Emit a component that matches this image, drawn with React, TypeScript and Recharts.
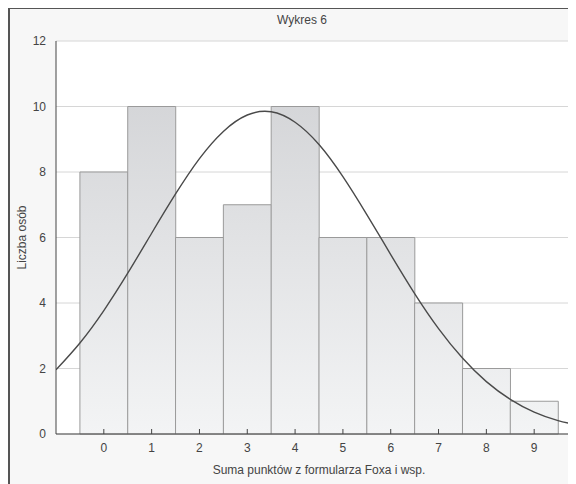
import React from 'react';
import { ComposedChart, Bar, Line, XAxis, YAxis, CartesianGrid } from 'recharts';

// histogram: score on the Fox et al. form vs number of people
const scores = [0, 1, 2, 3, 4, 5, 6, 7, 8, 9];
const counts = [8, 10, 6, 7, 10, 6, 6, 4, 2, 1];

// fitted normal curve
const curveX = [-1, -0.5, 0, 0.5, 1, 1.5, 2, 2.5, 3, 3.5, 4, 4.5, 5, 5.5, 6, 6.5, 7, 7.5, 8, 8.5, 9, 9.5, 10];
const curveY = [1.96, 2.78, 3.77, 4.91, 6.13, 7.33, 8.41, 9.24, 9.74, 9.84, 9.52, 8.84, 7.86, 6.7, 5.48, 4.29, 3.22, 2.32, 1.6, 1.06, 0.67, 0.41, 0.24];

const xTicks = [0, 1, 2, 3, 4, 5, 6, 7, 8, 9];
const yTicks = [0, 2, 4, 6, 8, 10, 12];

const barData = scores.map((s, i) => ({ x: s, count: counts[i] }));
const curveData = curveX.map((x, i) => ({ x, fit: curveY[i] }));

const font = { fontFamily: 'Liberation Sans, Arial, sans-serif', fontSize: 12, fill: '#444' };

const App: React.FC = () => {
    return (
        <div
            style={{
                position: 'relative',
                marginTop: -1,
                width: 568,
                height: 477,
                overflow: 'hidden',
                background: '#f7f7f7',
                borderLeft: '2px solid #555',
                borderTop: '2px solid #555',
                boxSizing: 'border-box',
                fontFamily: 'Liberation Sans, Arial, sans-serif',
            }}
        >
            <div style={{ position: 'absolute', left: 0, width: 584, top: 4, textAlign: 'center', fontSize: 12, color: '#444' }}>
                Wykres 6
            </div>
            <div style={{ position: 'absolute', left: 0, top: 0 }}>
                <ComposedChart width={572} height={475} data={barData} margin={{ top: 32, right: 0, left: 0, bottom: 10 }} barCategoryGap={0}>
                    <defs>
                        <linearGradient id="barFill" gradientUnits="userSpaceOnUse" x1="0" y1="32" x2="0" y2="425">
                            <stop offset="0%" stopColor="#cfd0d3" />
                            <stop offset="100%" stopColor="#f3f4f5" />
                        </linearGradient>
                    </defs>
                    <CartesianGrid vertical={false} stroke="#d6d6d6" fill="#fff" />
                    <XAxis
                        dataKey="x"
                        type="number"
                        domain={[-1, 10]}
                        ticks={xTicks}
                        allowDataOverflow
                        height={40}
                        stroke="#444"
                        tickSize={-5}
                        tickMargin={14}
                        tick={font}
                        label={{ value: 'Suma punktów z formularza Foxa i wsp.', position: 'insideBottom', offset: 0, style: font }}
                    />
                    <XAxis
                        xAxisId="bars"
                        dataKey="x"
                        type="number"
                        domain={[-1, 10]}
                        allowDataOverflow
                        height={0}
                        hide
                    />
                    <XAxis
                        xAxisId="top"
                        orientation="top"
                        dataKey="x"
                        type="number"
                        domain={[-1, 10]}
                        ticks={xTicks}
                        allowDataOverflow
                        height={0}
                        stroke="#444"
                        tickSize={-5}
                        tick={false}
                    />
                    <YAxis
                        type="number"
                        domain={[0, 12]}
                        ticks={yTicks}
                        width={46}
                        stroke="#444"
                        tickLine={false}
                        tickSize={0}
                        tickMargin={10}
                        tick={font}
                        label={{ value: 'Liczba osób', angle: -90, position: 'insideLeft', offset: 12, style: { ...font, textAnchor: 'middle' } }}
                    />
                    <Bar xAxisId="bars" dataKey="count" fill="url(#barFill)" stroke="#9a9a9a" strokeWidth={1} isAnimationActive={false} />
                    <Line
                        data={curveData}
                        dataKey="fit"
                        type="natural"
                        stroke="#4a4a4a"
                        strokeWidth={1.4}
                        dot={false}
                        activeDot={false}
                        isAnimationActive={false}
                    />
                </ComposedChart>
            </div>
        </div>
    );
};

export default App;
